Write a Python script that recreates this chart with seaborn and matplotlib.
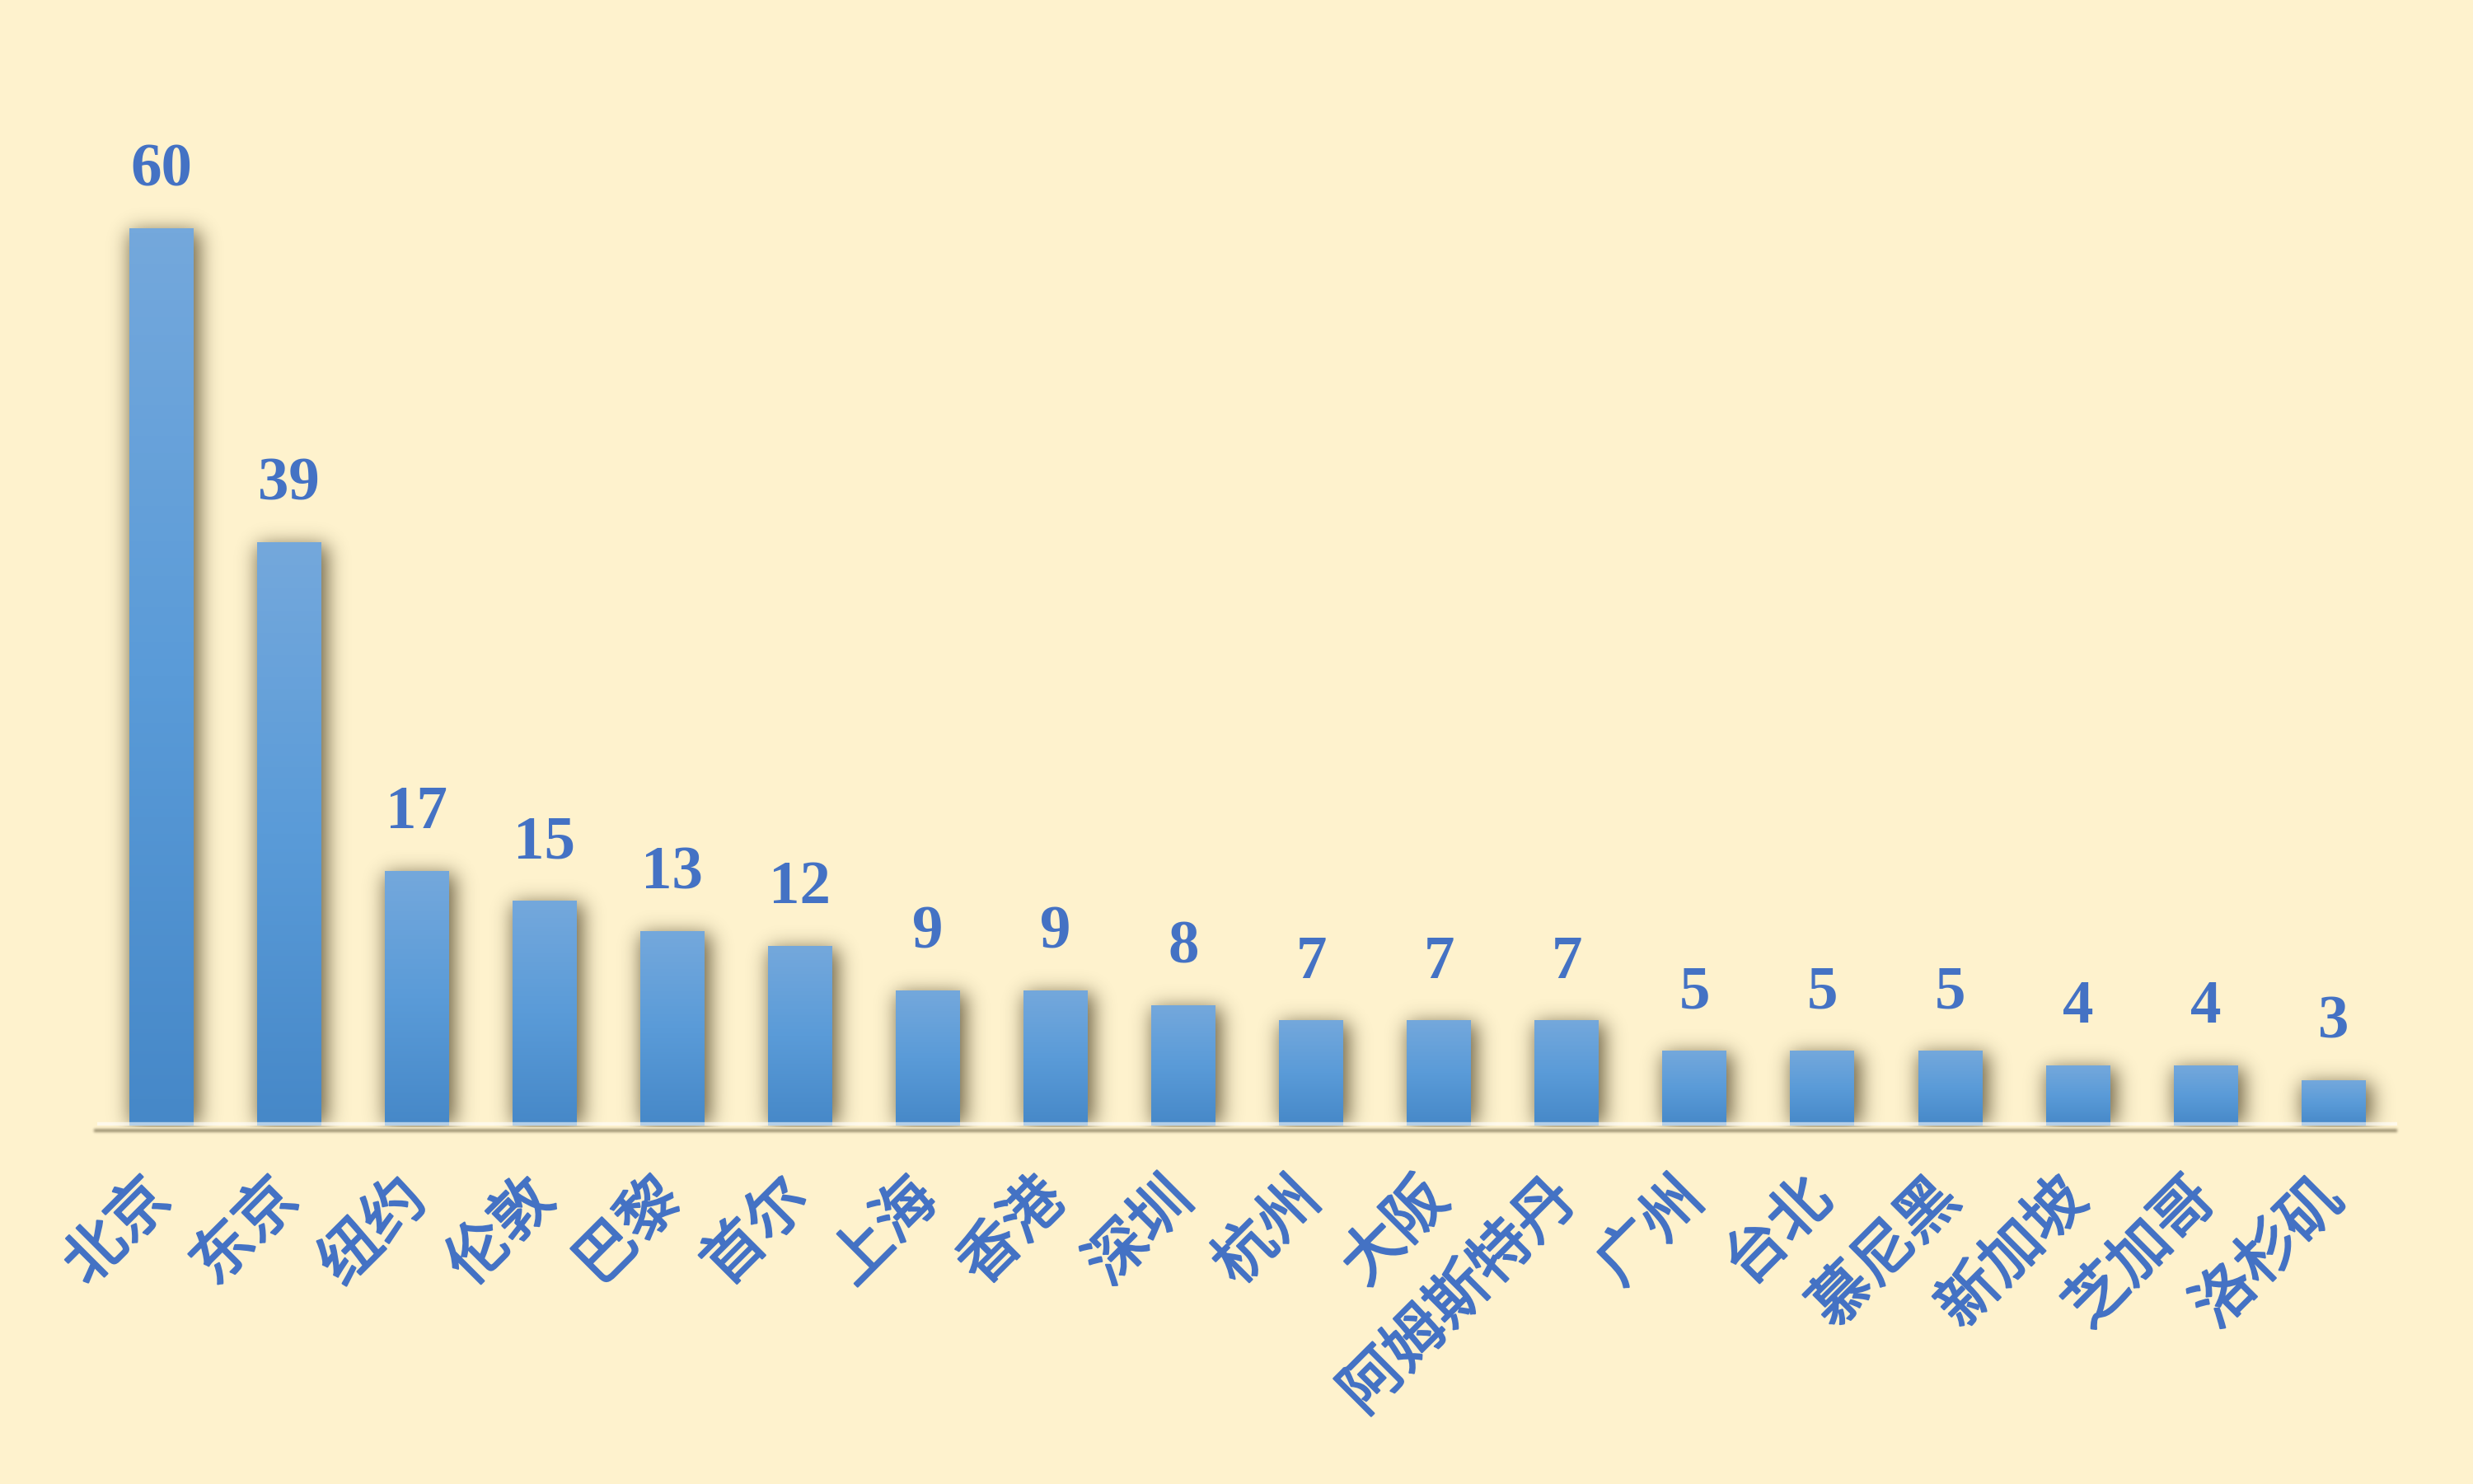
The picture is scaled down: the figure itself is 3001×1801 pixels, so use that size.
import numpy as np
import pandas as pd
import matplotlib
matplotlib.use("Agg")
import matplotlib.pyplot as plt
import seaborn as sns
from matplotlib.colors import LinearSegmentedColormap
from matplotlib import patheffects as pe

# Data
cities = ["北京", "东京", "纽约", "伦敦", "巴黎", "首尔", "上海", "香港", "深圳",
          "杭州", "大阪", "阿姆斯特丹", "广州", "台北", "慕尼黑", "新加坡", "芝加哥", "洛杉矶"]
counts = [60, 39, 17, 15, 13, 12, 9, 9, 8, 7, 7, 7, 5, 5, 5, 4, 4, 3]

BG = "#FEF2CD"
TEXT_BLUE = "#4472C4"
BAR_TOP = "#74A8DC"
BAR_MID = "#5A9BD8"
BAR_BOTTOM = "#4688C8"

sns.set_theme(style="white")
plt.rcParams["font.family"] = ["Noto Sans CJK SC", "DejaVu Sans"]

W, H, DPI = 3001, 1801, 100
fig = plt.figure(figsize=(W / DPI, H / DPI), dpi=DPI, facecolor=BG)
ax = fig.add_axes([118 / W, (H - 1366) / H, (2909 - 118) / W, 1270 / H])
ax.set_facecolor("none")

df = pd.DataFrame({"city": cities, "count": counts})
sns.barplot(data=df, x="city", y="count", ax=ax, width=0.5, color=BAR_MID,
            saturation=1, errorbar=None, zorder=2)

n = len(cities)
xlim = (-0.5, n - 0.5)
ylim = (0, 70)
ax.set_xlim(*xlim)
ax.set_ylim(*ylim)

# Vertical gradient fill for each bar
grad_cmap = LinearSegmentedColormap.from_list(
    "bar_grad", [(0.0, BAR_TOP), (0.5, BAR_MID), (1.0, BAR_BOTTOM)])
grad = np.linspace(0, 1, 256)[:, None]
bars = list(ax.containers[0])
for p in bars:
    x0, w, h = p.get_x(), p.get_width(), p.get_height()
    ax.imshow(grad, extent=[x0, x0 + w, 0, h], aspect="auto", cmap=grad_cmap,
              interpolation="bilinear", zorder=2.1)
    p.set_facecolor("none")
    p.set_edgecolor("none")
ax.set_xlim(*xlim)
ax.set_ylim(*ylim)

# Value labels above bars
ax.bar_label(ax.containers[0], labels=[str(v) for v in counts], padding=26,
             fontsize=54, fontweight="bold", color=TEXT_BLUE,
             family=["Liberation Serif", "DejaVu Serif"], zorder=5)

# Category labels (slightly thickened strokes)
ax.set_xticks(range(n))
ax.set_xticklabels(cities, rotation=45, ha="right", va="center",
                   rotation_mode="anchor", fontsize=53, fontweight="normal",
                   color=TEXT_BLUE)
for lbl in ax.get_xticklabels():
    lbl.set_path_effects([pe.Stroke(linewidth=1.6, foreground=TEXT_BLUE), pe.Normal()])
ax.tick_params(axis="x", length=0, pad=56)
ax.set_yticks([])
ax.set_xlabel("")
ax.set_ylabel("")
for side in ["left", "right", "top", "bottom"]:
    ax.spines[side].set_visible(False)

# Baseline: translucent light band over the bar feet
ax.axhline(0, color="white", alpha=0.6, lw=6, zorder=3, solid_capstyle="butt")

# Soft drop shadows behind bars and baseline
def soft_profile(length, a, b, sigma):
    idx = np.arange(length)
    ind = ((idx >= a) & (idx < b)).astype(float)
    r = int(4 * sigma)
    k = np.exp(-0.5 * (np.arange(-r, r + 1) / sigma) ** 2)
    k /= k.sum()
    return np.convolve(ind, k, mode="same")

alpha = np.zeros((H, W), dtype=np.float32)
to_px = ax.transData.transform
base_y = to_px((0, 0))[1]
sigma = 12
for p in bars:
    (px0, py0) = to_px((p.get_x(), 0))
    (px1, py1) = to_px((p.get_x() + p.get_width(), p.get_height()))
    prof_x = soft_profile(W, px0 + 1, px1 + 7, sigma)
    prof_y = soft_profile(H, base_y, py1 - 4, sigma)
    alpha = np.maximum(alpha, 0.68 * np.outer(prof_y, prof_x).astype(np.float32))
alpha[: int(base_y) - 2, :] = 0

ax_x0 = to_px((xlim[0], 0))[0]
ax_x1 = to_px((xlim[1], 0))[0]
line_x = soft_profile(W, ax_x0 - 4, ax_x1, 1.5)
line_y = soft_profile(H, base_y - 9, base_y - 5, 1.5)
alpha = np.maximum(alpha, 0.45 * np.outer(line_y, line_x).astype(np.float32))

shadow = np.zeros((H, W, 4), dtype=np.float32)
shadow[..., 0] = 40 / 255
shadow[..., 1] = 30 / 255
shadow[..., 2] = 5 / 255
shadow[..., 3] = np.clip(alpha, 0, 1)
fig.figimage(shadow, xo=0, yo=0, origin="lower", zorder=-1)

fig.savefig("out.png", dpi=DPI, facecolor=BG)
